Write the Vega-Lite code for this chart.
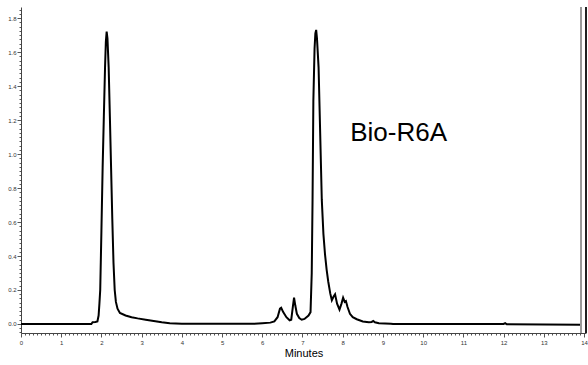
{
  "$schema": "https://vega.github.io/schema/vega-lite/v6.json",
  "width": 565,
  "height": 326,
  "autosize": "none",
  "padding": {"left": 21, "top": 7, "right": 2, "bottom": 32},
  "background": "white",
  "config": {
    "view": {"stroke": null},
    "font": "Liberation Sans"
  },
  "data": {
    "values": [
      {"t": 0, "au": 0}, {"t": 1.75, "au": 0}, {"t": 1.78, "au": 0.01}, {"t": 1.85, "au": 0.012},
      {"t": 1.9, "au": 0.015}, {"t": 1.93, "au": 0.05}, {"t": 1.95, "au": 0.12}, {"t": 1.97, "au": 0.2},
      {"t": 2.0, "au": 0.55}, {"t": 2.03, "au": 0.92}, {"t": 2.06, "au": 1.22}, {"t": 2.09, "au": 1.51},
      {"t": 2.11, "au": 1.66}, {"t": 2.13, "au": 1.72}, {"t": 2.15, "au": 1.68}, {"t": 2.18, "au": 1.51},
      {"t": 2.21, "au": 1.22}, {"t": 2.24, "au": 0.92}, {"t": 2.27, "au": 0.62}, {"t": 2.3, "au": 0.36},
      {"t": 2.33, "au": 0.2}, {"t": 2.36, "au": 0.13}, {"t": 2.4, "au": 0.09}, {"t": 2.46, "au": 0.065},
      {"t": 2.6, "au": 0.05}, {"t": 2.75, "au": 0.04}, {"t": 2.9, "au": 0.033}, {"t": 3.1, "au": 0.025},
      {"t": 3.3, "au": 0.018}, {"t": 3.5, "au": 0.01}, {"t": 3.7, "au": 0.004}, {"t": 4.0, "au": 0.002},
      {"t": 5.0, "au": 0.001}, {"t": 5.8, "au": 0.001}, {"t": 6.0, "au": 0.004}, {"t": 6.2, "au": 0.008},
      {"t": 6.3, "au": 0.015}, {"t": 6.38, "au": 0.04}, {"t": 6.44, "au": 0.09}, {"t": 6.47, "au": 0.095},
      {"t": 6.52, "au": 0.07}, {"t": 6.6, "au": 0.04}, {"t": 6.68, "au": 0.022}, {"t": 6.72, "au": 0.025},
      {"t": 6.76, "au": 0.1}, {"t": 6.79, "au": 0.155}, {"t": 6.82, "au": 0.11}, {"t": 6.86, "au": 0.06},
      {"t": 6.92, "au": 0.035}, {"t": 6.98, "au": 0.025}, {"t": 7.05, "au": 0.03}, {"t": 7.15, "au": 0.05},
      {"t": 7.2, "au": 0.07}, {"t": 7.23, "au": 0.3}, {"t": 7.25, "au": 0.73}, {"t": 7.27, "au": 1.31},
      {"t": 7.3, "au": 1.62}, {"t": 7.32, "au": 1.71}, {"t": 7.34, "au": 1.73}, {"t": 7.36, "au": 1.68},
      {"t": 7.4, "au": 1.51}, {"t": 7.44, "au": 1.12}, {"t": 7.48, "au": 0.73}, {"t": 7.52, "au": 0.53},
      {"t": 7.56, "au": 0.41}, {"t": 7.6, "au": 0.32}, {"t": 7.64, "au": 0.25}, {"t": 7.69, "au": 0.18},
      {"t": 7.73, "au": 0.14}, {"t": 7.77, "au": 0.16}, {"t": 7.81, "au": 0.175}, {"t": 7.86, "au": 0.12},
      {"t": 7.92, "au": 0.085}, {"t": 7.97, "au": 0.12}, {"t": 8.01, "au": 0.155}, {"t": 8.05, "au": 0.13},
      {"t": 8.08, "au": 0.135}, {"t": 8.12, "au": 0.1}, {"t": 8.18, "au": 0.06}, {"t": 8.25, "au": 0.04},
      {"t": 8.35, "au": 0.028}, {"t": 8.5, "au": 0.015}, {"t": 8.65, "au": 0.01}, {"t": 8.72, "au": 0.012},
      {"t": 8.76, "au": 0.018}, {"t": 8.8, "au": 0.01}, {"t": 8.9, "au": 0.005}, {"t": 9.2, "au": 0.002},
      {"t": 9.25, "au": 0}, {"t": 12.0, "au": 0}, {"t": 12.04, "au": 0.005}, {"t": 12.08, "au": -0.002},
      {"t": 13.93, "au": -0.004}
    ]
  },
  "layer": [
    {
      "mark": {"type": "line", "color": "black", "strokeWidth": 2, "clip": true},
      "encoding": {
        "x": {
          "field": "t", "type": "quantitative",
          "scale": {"domain": [0, 14.05], "nice": false, "zero": false},
          "axis": {
            "title": "Minutes",
            "titleFontSize": 11, "titleFontWeight": "normal", "titleColor": "black",
            "titleFont": "Liberation Sans", "titleBaseline": "alphabetic", "titleY": 23,
            "tickCount": 1000,
            "values": [0,0.1,0.2,0.3,0.4,0.5,0.6,0.7,0.8,0.9,1,1.1,1.2,1.3,1.4,1.5,1.6,1.7,1.8,1.9,2,2.1,2.2,2.3,2.4,2.5,2.6,2.7,2.8,2.9,3,3.1,3.2,3.3,3.4,3.5,3.6,3.7,3.8,3.9,4,4.1,4.2,4.3,4.4,4.5,4.6,4.7,4.8,4.9,5,5.1,5.2,5.3,5.4,5.5,5.6,5.7,5.8,5.9,6,6.1,6.2,6.3,6.4,6.5,6.6,6.7,6.8,6.9,7,7.1,7.2,7.3,7.4,7.5,7.6,7.7,7.8,7.9,8,8.1,8.2,8.3,8.4,8.5,8.6,8.7,8.8,8.9,9,9.1,9.2,9.3,9.4,9.5,9.6,9.7,9.8,9.9,10,10.1,10.2,10.3,10.4,10.5,10.6,10.7,10.8,10.9,11,11.1,11.2,11.3,11.4,11.5,11.6,11.7,11.8,11.9,12,12.1,12.2,12.3,12.4,12.5,12.6,12.7,12.8,12.9,13,13.1,13.2,13.3,13.4,13.5,13.6,13.7,13.8,13.9,14],
            "labelExpr": "abs(datum.value - round(datum.value)) < 0.001 ? format(datum.value, 'd') : ''",
            "labelOverlap": false, "labelFlush": false,
            "labelFontSize": 6, "labelColor": "#333", "labelPadding": 2,
            "tickSize": {"condition": {"test": "abs(datum.value - round(datum.value)) < 0.001", "value": 4}, "value": 2},
            "tickColor": "#555", "domainColor": "#444", "grid": false
          }
        },
        "y": {
          "field": "au", "type": "quantitative",
          "scale": {"domain": [-0.053, 1.865], "nice": false, "zero": false},
          "axis": {
            "title": null,
            "tickCount": 1000,
            "values": [-0.05,-0.025,0,0.025,0.05,0.075,0.1,0.125,0.15,0.175,0.2,0.225,0.25,0.275,0.3,0.325,0.35,0.375,0.4,0.425,0.45,0.475,0.5,0.525,0.55,0.575,0.6,0.625,0.65,0.675,0.7,0.725,0.75,0.775,0.8,0.825,0.85,0.875,0.9,0.925,0.95,0.975,1,1.025,1.05,1.075,1.1,1.125,1.15,1.175,1.2,1.225,1.25,1.275,1.3,1.325,1.35,1.375,1.4,1.425,1.45,1.475,1.5,1.525,1.55,1.575,1.6,1.625,1.65,1.675,1.7,1.725,1.75,1.775,1.8,1.825,1.85],
            "labelExpr": "abs(datum.value * 5 - round(datum.value * 5)) < 0.001 ? format(datum.value, '.1f') : ''",
            "labelOverlap": false, "labelFlush": false,
            "labelFontSize": 6, "labelColor": "#333", "labelPadding": 1,
            "tickSize": {"condition": {"test": "abs(datum.value * 5 - round(datum.value * 5)) < 0.001", "value": 4}, "value": 2},
            "tickColor": "#555", "domainColor": "#444", "grid": false
          }
        }
      }
    },
    {
      "mark": {"type": "rule", "color": "#999", "strokeWidth": 1},
      "encoding": {"x": {"datum": 13.93, "type": "quantitative"}}
    },
    {
      "mark": {"type": "rule", "color": "#222", "strokeWidth": 1.5},
      "encoding": {"x": {"datum": 14.05, "type": "quantitative"}}
    },
    {
      "data": {"values": [{"t": 9.39, "au": 1.075, "label": "Bio-R6A"}]},
      "mark": {"type": "text", "font": "Liberation Sans", "fontSize": 26, "align": "center", "baseline": "alphabetic", "color": "black"},
      "encoding": {
        "x": {"field": "t", "type": "quantitative"},
        "y": {"field": "au", "type": "quantitative"},
        "text": {"field": "label"}
      }
    }
  ]
}
